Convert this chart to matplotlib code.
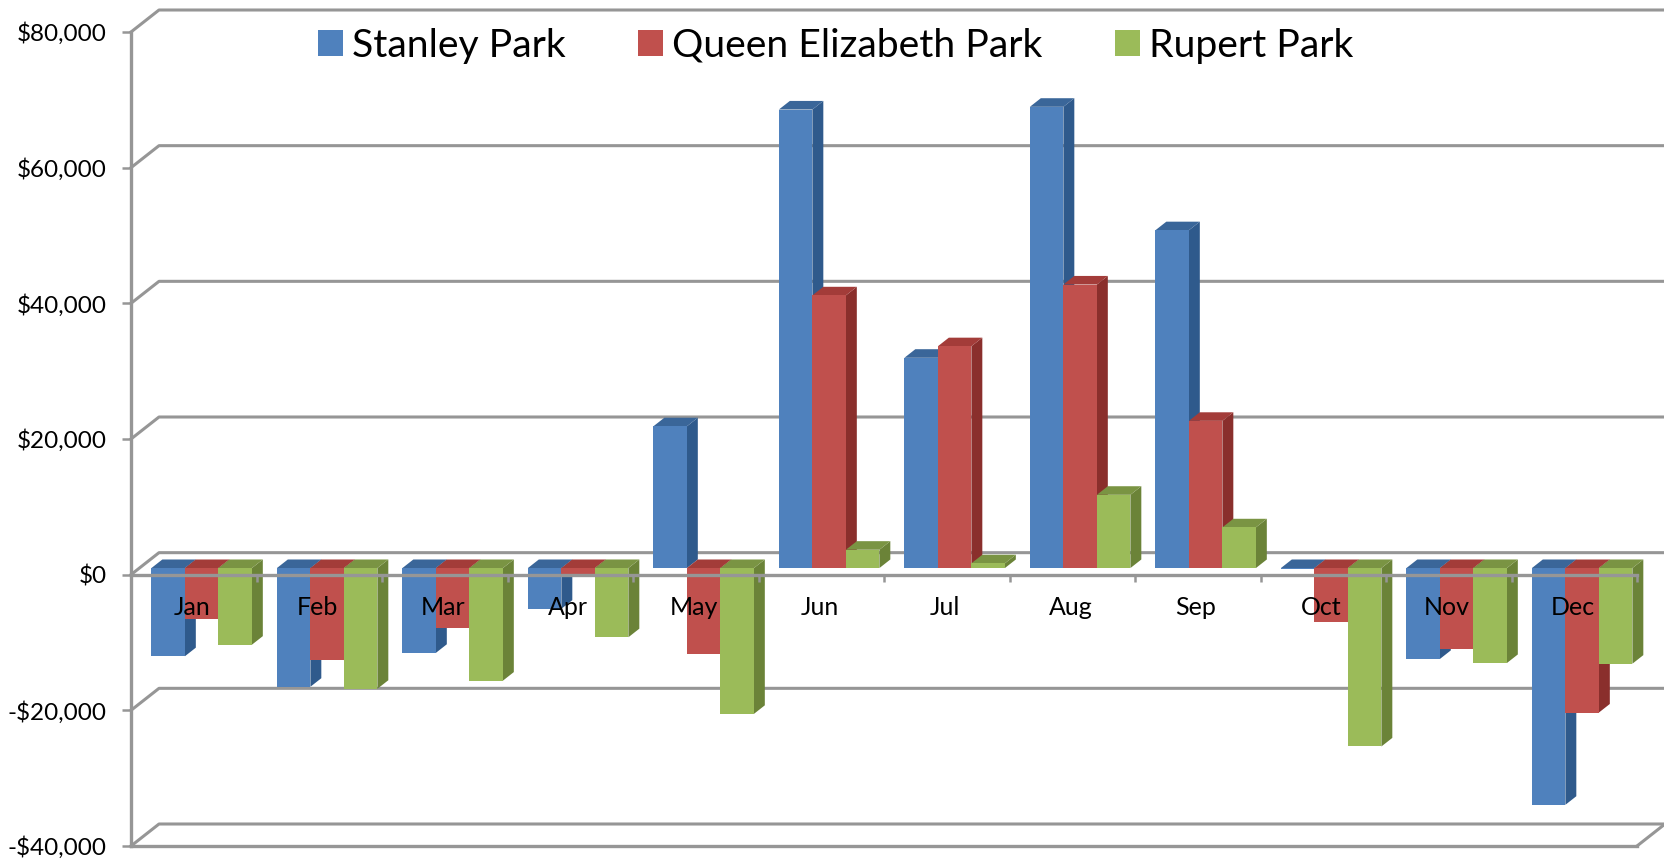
import numpy as np
import matplotlib.pyplot as plt
from matplotlib.patches import Patch

months = ["Jan", "Feb", "Mar", "Apr", "May", "Jun", "Jul", "Aug", "Sep", "Oct", "Nov", "Dec"]
stanley = [-13000, -17500, -12500, -6000, 20900, 67600, 31000, 68000, 49800, -100, -13400, -34900]
queen = [-7500, -13600, -8800, -1000, -12700, 40200, 32700, 41800, 21700, -8000, -12000, -21300]
rupert = [-11300, -17800, -16600, -10200, -21500, 2700, 700, 10800, 6000, -26300, -14000, -14100]
series = ["Stanley Park", "Queen Elizabeth Park", "Rupert Park"]
yticks = [-40000, -20000, 0, 20000, 40000, 60000, 80000]
ylabels = ["-$40,000", "-$20,000", "$0", "$20,000", "$40,000", "$60,000", "$80,000"]

front = ["#4F81BD", "#C0504D", "#9BBB59"]
side = ["#2F5A8C", "#8A2F2C", "#6B8338"]
top = ["#3A6699", "#A33C39", "#7A9443"]
grey = "#969696"

plt.rcParams['font.family'] = ['Lato', 'DejaVu Sans']

W, H = 1664, 859
fig = plt.figure(figsize=(W / 100, H / 100), dpi=100)
ax = fig.add_axes([131 / W, (H - 846) / H, 1506 / W, 814 / H])
ax.set_xlim(0, 12)
ax.set_ylim(-40000, 80000)

# depth of the fake 3d box, in data units
DX = 28 / (1506 / 12)
DY = 22 / (814 / 120000)
z0, z1 = 0.30, 0.69
bw = 33.5 / (1506 / 12)
start = 12 / (1506 / 12)

# back wall lines and left side wall
for y in yticks:
    ax.plot([0, DX, 12 + DX], [y, y + DY, y + DY], color=grey, lw=2.2, clip_on=False, zorder=1)
ax.plot([12, 12 + DX], [-40000, -40000 + DY], color=grey, lw=2.2, clip_on=False, zorder=1)
ax.plot([0, 12], [-40000, -40000], color=grey, lw=2.4, clip_on=False, zorder=1)

# bars, left to right so that later bars cover earlier sides
for i in range(12):
    for j, vals in enumerate([stanley, queen, rupert]):
        v = vals[i]
        x0 = i + start + j * bw + z0 * DX
        x1 = x0 + bw
        b = z0 * DY
        ddx = (z1 - z0) * DX
        ddy = (z1 - z0) * DY
        hi = b + max(v, 0)
        lo = b + min(v, 0)
        ax.fill([x1, x1 + ddx, x1 + ddx, x1], [lo, lo + ddy, hi + ddy, hi],
                color=side[j], lw=0, clip_on=False, zorder=2)
        ax.fill([x0, x1, x1 + ddx, x0 + ddx], [hi, hi, hi + ddy, hi + ddy],
                color=top[j], lw=0, clip_on=False, zorder=2)
        ax.bar(x0, v, width=bw, bottom=b, align='edge', color=front[j], lw=0, zorder=2)

# axes
for s in ['top', 'right']:
    ax.spines[s].set_visible(False)
ax.spines['left'].set_color(grey)
ax.spines['left'].set_linewidth(2.4)
ax.spines['bottom'].set_position(('data', 0))
ax.spines['bottom'].set_color(grey)
ax.spines['bottom'].set_linewidth(2.4)
ax.set_axisbelow(False)
ax.set_yticks(yticks)
ax.set_yticklabels(ylabels, fontsize=17.5, color="black")
ax.tick_params(axis='y', length=6.5, width=1.8, color=grey, pad=11)
ax.set_xticks(np.arange(13))
ax.set_xticklabels([])
ax.tick_params(axis='x', which='major', length=5, width=1.8, color=grey)
ax.set_xticks(np.arange(12) + 0.485, minor=True)
ax.set_xticklabels(months, minor=True, fontsize=18, color="black")
ax.tick_params(axis='x', which='minor', length=0, pad=15.5)
for t in ax.get_xticklabels(minor=True):
    t.set_zorder(5)

handles = [Patch(color=c, lw=0) for c in front]
ax.legend(handles, series, ncol=3, frameon=False, fontsize=28.2, loc='center left',
          bbox_to_anchor=(318 / W, (H - 46) / H), bbox_transform=fig.transFigure,
          handlelength=0.63, handleheight=0.66, handletextpad=0.24, columnspacing=1.85,
          borderpad=0, borderaxespad=0)

fig.savefig("out.png", dpi=100)
